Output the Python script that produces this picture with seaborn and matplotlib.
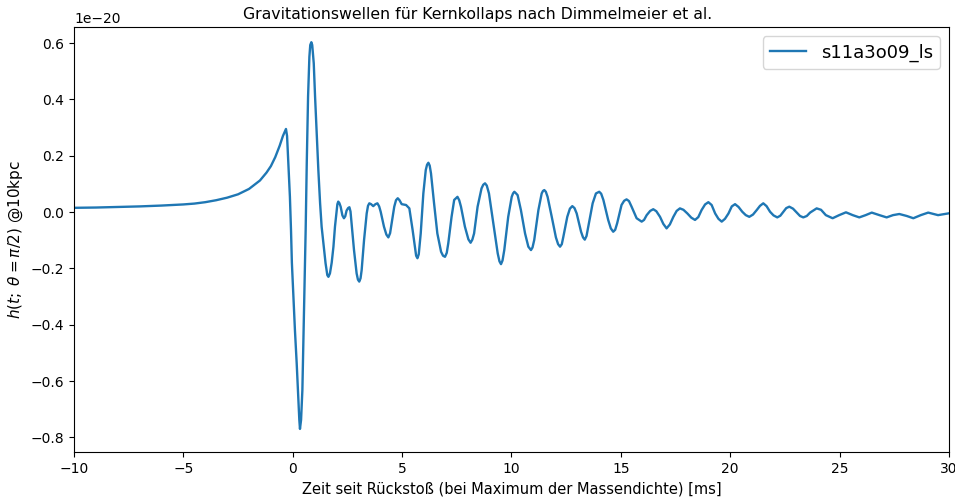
import numpy as np
import pandas as pd
import matplotlib
matplotlib.use("Agg")
import matplotlib.pyplot as plt
import seaborn as sns

# time since bounce [ms] -- main readings
t_ms = [
    -10.0, -9.0, -8.0, -7.0, -6.0, -5.0, -4.5, -4.0, -3.5, -3.0, -2.5, -2.0,
    -1.5, -1.2, -1.0, -0.8, -0.6, -0.45, -0.31, -0.26, -0.20, -0.13, -0.08,
    -0.04, 0.03, 0.10, 0.18, 0.25, 0.30, 0.33, 0.38, 0.44, 0.48, 0.53, 0.59,
    0.64, 0.70, 0.76, 0.80, 0.85, 0.89, 0.96, 1.02, 1.09, 1.17, 1.25, 1.32,
    1.40, 1.50, 1.58, 1.63, 1.70, 1.78, 1.86, 1.93, 2.01, 2.08, 2.19, 2.34,
    2.46, 2.59, 2.69, 2.80, 2.92, 3.04, 3.15, 3.26, 3.38, 3.50, 3.68, 3.87,
    4.02, 4.17, 4.37, 4.52, 4.64, 4.80, 4.98, 5.18, 5.33, 5.48, 5.70, 5.85,
    5.97, 6.08, 6.20, 6.32, 6.46, 6.61, 6.78, 6.96, 7.11, 7.26, 7.38, 7.53,
    7.69, 7.87, 8.03, 8.13, 8.29, 8.45, 8.63, 8.79, 8.97, 9.17, 9.37, 9.52,
    9.67, 9.85, 10.01, 10.13, 10.21, 10.28, 10.43, 10.62, 10.77, 10.89, 11.04,
    11.23, 11.38, 11.50, 11.65, 11.84, 12.03, 12.22, 12.37, 12.55, 12.78,
    12.98, 13.18, 13.35, 13.51, 13.71, 13.86, 14.01, 14.20, 14.42, 14.65,
    14.83, 15.03, 15.26, 15.49, 15.72, 15.95, 16.18, 16.48, 16.79, 17.09,
    17.40, 17.70, 18.04, 18.39, 18.69, 19.00, 19.31, 19.61, 19.92, 20.22,
    20.55, 20.87, 21.21, 21.51, 21.82, 22.15, 22.43, 22.70, 23.04, 23.34,
    23.65, 23.95, 24.15, 24.37, 24.68, 24.98, 25.29, 25.60, 25.90, 26.19,
    26.47, 26.82, 27.15, 27.44, 27.73, 28.07, 28.37, 28.71, 29.05, 29.50,
    29.96,
]

# strain h(t; theta=pi/2) at 10 kpc, in units of 1e-20 -- main readings
h_1e20 = [
    0.015, 0.016, 0.018, 0.020, 0.023, 0.027, 0.030, 0.035, 0.042, 0.051,
    0.063, 0.082, 0.112, 0.140, 0.163, 0.195, 0.235, 0.270, 0.295, 0.270,
    0.173, 0.054, -0.064, -0.180, -0.300, -0.420, -0.537, -0.656, -0.738,
    -0.770, -0.738, -0.632, -0.478, -0.300, -0.064, 0.173, 0.410, 0.551,
    0.593, 0.603, 0.593, 0.528, 0.410, 0.290, 0.149, 0.031, -0.052, -0.111,
    -0.182, -0.224, -0.230, -0.218, -0.180, -0.123, -0.052, 0.007, 0.037,
    0.019, -0.022, 0.005, 0.017, -0.040, -0.135, -0.218, -0.247, -0.206,
    -0.099, -0.005, 0.031, 0.021, 0.031, 0.001, -0.052, -0.090, -0.040,
    0.019, 0.049, 0.028, 0.025, 0.013, -0.064, -0.164, -0.076, 0.066,
    0.149, 0.175, 0.137, 0.031, -0.076, -0.141, -0.159, -0.111, -0.017,
    0.043, 0.054, 0.019, -0.052, -0.097, -0.109, -0.076, 0.019, 0.084,
    0.102, 0.066, -0.040, -0.147, -0.185, -0.135, -0.017, 0.054, 0.072,
    0.066, 0.060, 0.007, -0.076, -0.123, -0.135, -0.099, 0.007, 0.066,
    0.078, 0.054, -0.017, -0.090, -0.123, -0.088, -0.017, 0.021, -0.005,
    -0.070, -0.098, -0.052, 0.031, 0.066, 0.072, 0.043, -0.028, -0.070,
    -0.040, 0.025, 0.045, 0.019, -0.022, -0.034, -0.011, 0.010, -0.017,
    -0.058, -0.017, 0.013, -0.005, -0.028, 0.007, 0.035, -0.005, -0.034,
    -0.005, 0.028, 0.001, -0.017, 0.007, 0.031, 0.001, -0.019, 0.001,
    0.019, -0.002, -0.019, -0.002, 0.013, 0.008, -0.011, -0.022, -0.011,
    -0.001, -0.011, -0.019, -0.011, -0.002, -0.011, -0.019, -0.011, -0.007,
    -0.014, -0.022, -0.011, -0.002, -0.011, -0.005,
]

# extra readings near the rounded crests and troughs of the ringdown
t_crest_ms = [
    2.04, 2.13, 2.27, 2.40, 2.53, 2.64, 2.98, 3.10, 3.44, 3.58, 3.78, 3.95,
    4.28, 4.45, 4.72, 4.88, 5.64, 5.76, 6.14, 6.26, 6.87, 7.04, 7.61, 8.21,
    8.71, 8.87, 9.45, 9.59, 10.07, 10.96, 11.44, 11.57, 12.13, 12.30, 12.67,
    12.88, 13.27, 13.43, 14.10, 14.54, 14.74, 15.15, 15.37, 16.06, 16.34,
    16.62, 16.94, 17.24, 17.55, 17.86, 18.22, 18.54, 18.85, 19.15, 19.46,
    19.76, 20.07, 20.38, 20.71, 21.04, 21.36, 21.66, 21.98, 22.29, 22.56,
    22.87, 23.19, 23.50,
]
h_crest_1e20 = [
    0.028, 0.032, -0.012, -0.015, 0.014, 0.002, -0.240, -0.235, 0.022, 0.028,
    0.028, 0.020, -0.080, -0.075, 0.042, 0.042, -0.155, -0.150, 0.168, 0.165,
    -0.155, -0.145, 0.042, -0.098, 0.097, 0.094, -0.175, -0.172, 0.066,
    -0.126, 0.075, 0.072, -0.114, -0.114, 0.012, 0.014, -0.090, -0.085,
    0.065, -0.058, -0.063, 0.040, 0.039, -0.028, 0.004, 0.003, -0.042,
    -0.044, 0.004, 0.008, -0.020, -0.018, 0.027, 0.025, -0.024, -0.024,
    0.020, 0.018, -0.011, -0.009, 0.022, 0.021, -0.012, -0.013, 0.014,
    0.012, -0.014, -0.014,
]

title = "Gravitationswellen für Kernkollaps nach Dimmelmeier et al."
xlabel = "Zeit seit Rückstoß (bei Maximum der Massendichte) [ms]"
ylabel = r"$h(t;\;\theta=\pi/2)$ @10kpc"
series_name = "s11a3o09_ls"

df = pd.DataFrame({"t": t_ms + t_crest_ms,
                   "h": np.array(h_1e20 + h_crest_1e20) * 1e-20})
df = df.sort_values("t").reset_index(drop=True)
df["model"] = series_name

fig = plt.figure(figsize=(9.55, 5.0), dpi=100)
ax = fig.add_axes([0.0775, 0.096, 0.9162, 0.850])

sns.lineplot(data=df, x="t", y="h", hue="model", estimator=None, sort=False,
             palette=["#1f77b4"], linewidth=1.7, ax=ax)

ax.set_xlim(-10, 30)
ax.set_ylim(-0.852e-20, 0.657e-20)
ax.ticklabel_format(axis="y", style="sci", scilimits=(-20, -20))
fig.suptitle(title, fontsize=11.3, x=0.5, y=0.972, va="center")
ax.set_xlabel(xlabel, fontsize=10.5)
ax.set_ylabel(ylabel, fontsize=11)
ax.tick_params(labelsize=10)
ax.legend(loc="upper right", fontsize=13)

fig.savefig("out.png", dpi=100)
